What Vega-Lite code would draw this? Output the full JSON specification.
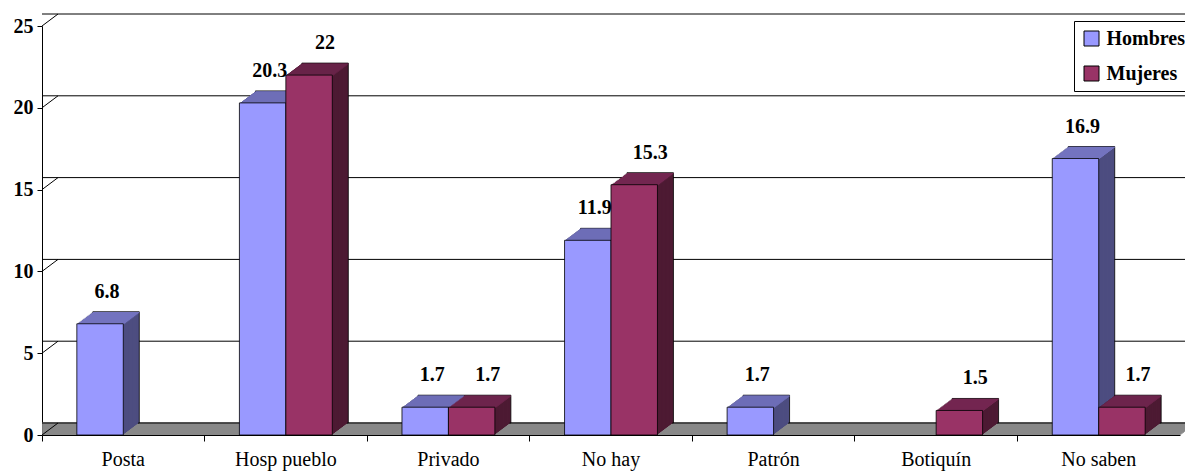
{
  "$schema": "https://vega.github.io/schema/vega-lite/v6.json",
  "width": 1138,
  "height": 409,
  "autosize": "none",
  "padding": {"left": 42, "top": 26, "right": 5, "bottom": 36},
  "background": "white",
  "config": {
    "view": {"stroke": null},
    "scale": {"offsetBandPaddingInner": 0, "offsetBandPaddingOuter": 0.75},
    "legend": {
      "orient": "none", "legendX": 1032, "legendY": -5,
      "strokeColor": "black", "fillColor": "white", "padding": 7.5,
      "symbolType": "square", "symbolSize": 225, "symbolStrokeColor": "black", "symbolStrokeWidth": 1,
      "labelFont": "Liberation Serif", "labelFontWeight": "bold", "labelFontSize": 20, "labelColor": "black",
      "rowPadding": 15, "labelOffset": 5, "title": null
    }
  },
  "data": {"values": [
    {"cat": "Posta", "sex": "Hombres", "value": 6.8},
    {"cat": "Hosp pueblo", "sex": "Hombres", "value": 20.3},
    {"cat": "Hosp pueblo", "sex": "Mujeres", "value": 22},
    {"cat": "Privado", "sex": "Hombres", "value": 1.7},
    {"cat": "Privado", "sex": "Mujeres", "value": 1.7},
    {"cat": "No hay", "sex": "Hombres", "value": 11.9},
    {"cat": "No hay", "sex": "Mujeres", "value": 15.3},
    {"cat": "Patrón", "sex": "Hombres", "value": 1.7},
    {"cat": "Botiquín", "sex": "Mujeres", "value": 1.5},
    {"cat": "No saben", "sex": "Hombres", "value": 16.9},
    {"cat": "No saben", "sex": "Mujeres", "value": 1.7}
  ]},
  "datasets": {"grid": [{"v": 0}, {"v": 5}, {"v": 10}, {"v": 15}, {"v": 20}, {"v": 25}]},
  "layer": [
    {"data": {"values": [{}]}, "mark": {"type": "rule", "color": "#808080", "strokeWidth": 1.5, "xOffset": 0, "x2Offset": 0, "yOffset": 0}, "encoding": {"y": {"datum": 0, "type": "quantitative"}}},
    {"data": {"values": [{}]}, "mark": {"type": "rule", "color": "#808080", "strokeWidth": 1.5, "xOffset": 1.333, "x2Offset": 1.333, "yOffset": -1}, "encoding": {"y": {"datum": 0, "type": "quantitative"}}},
    {"data": {"values": [{}]}, "mark": {"type": "rule", "color": "#808080", "strokeWidth": 1.5, "xOffset": 2.667, "x2Offset": 2.667, "yOffset": -2}, "encoding": {"y": {"datum": 0, "type": "quantitative"}}},
    {"data": {"values": [{}]}, "mark": {"type": "rule", "color": "#808080", "strokeWidth": 1.5, "xOffset": 4, "x2Offset": 4, "yOffset": -3}, "encoding": {"y": {"datum": 0, "type": "quantitative"}}},
    {"data": {"values": [{}]}, "mark": {"type": "rule", "color": "#808080", "strokeWidth": 1.5, "xOffset": 5.333, "x2Offset": 5.333, "yOffset": -4}, "encoding": {"y": {"datum": 0, "type": "quantitative"}}},
    {"data": {"values": [{}]}, "mark": {"type": "rule", "color": "#808080", "strokeWidth": 1.5, "xOffset": 6.667, "x2Offset": 6.667, "yOffset": -5}, "encoding": {"y": {"datum": 0, "type": "quantitative"}}},
    {"data": {"values": [{}]}, "mark": {"type": "rule", "color": "#808080", "strokeWidth": 1.5, "xOffset": 8, "x2Offset": 8, "yOffset": -6}, "encoding": {"y": {"datum": 0, "type": "quantitative"}}},
    {"data": {"values": [{}]}, "mark": {"type": "rule", "color": "#808080", "strokeWidth": 1.5, "xOffset": 9.333, "x2Offset": 9.333, "yOffset": -7}, "encoding": {"y": {"datum": 0, "type": "quantitative"}}},
    {"data": {"values": [{}]}, "mark": {"type": "rule", "color": "#808080", "strokeWidth": 1.5, "xOffset": 10.667, "x2Offset": 10.667, "yOffset": -8}, "encoding": {"y": {"datum": 0, "type": "quantitative"}}},
    {"data": {"values": [{}]}, "mark": {"type": "rule", "color": "#808080", "strokeWidth": 1.5, "xOffset": 12, "x2Offset": 12, "yOffset": -9}, "encoding": {"y": {"datum": 0, "type": "quantitative"}}},
    {"data": {"values": [{}]}, "mark": {"type": "rule", "color": "#808080", "strokeWidth": 1.5, "xOffset": 13.333, "x2Offset": 13.333, "yOffset": -10}, "encoding": {"y": {"datum": 0, "type": "quantitative"}}},
    {"data": {"values": [{}]}, "mark": {"type": "rule", "color": "#808080", "strokeWidth": 1.5, "xOffset": 14.667, "x2Offset": 14.667, "yOffset": -11}, "encoding": {"y": {"datum": 0, "type": "quantitative"}}},
    {"data": {"values": [{}]}, "mark": {"type": "rule", "color": "#808080", "strokeWidth": 1.5, "xOffset": 16, "x2Offset": 16, "yOffset": -12}, "encoding": {"y": {"datum": 0, "type": "quantitative"}}},
    {"data": {"name": "grid"}, "mark": {"type": "rule", "color": "black", "strokeWidth": 1, "xOffset": 16, "x2Offset": 16, "yOffset": -12}, "encoding": {"y": {"field": "v", "type": "quantitative"}}},
    {"data": {"name": "grid"}, "mark": {"type": "rule", "color": "black", "strokeWidth": 1, "x2Offset": 16, "y2Offset": -12},
     "encoding": {"x": {"datum": "Posta", "type": "nominal", "bandPosition": 0}, "x2": {"datum": "Posta", "bandPosition": 0}, "y": {"field": "v", "type": "quantitative"}, "y2": {"field": "v"}}},
    {
      "encoding": {
        "x": {"field": "cat", "type": "nominal", "bandPosition": 0,
          "scale": {"domain": ["Posta", "Hosp pueblo", "Privado", "No hay", "Patrón", "Botiquín", "No saben"], "paddingInner": 0, "paddingOuter": 0},
          "axis": {"title": null, "labelAngle": 0, "labelAlign": "center", "labelFont": "Liberation Serif", "labelFontSize": 20, "labelColor": "black", "tickSize": 6, "tickColor": "black", "domainColor": "black", "bandPosition": 0, "labelPadding": 18, "zindex": 1, "grid": false}},
        "y": {"field": "value", "type": "quantitative",
          "scale": {"domain": [0, 25], "nice": false},
          "axis": {"title": null, "values": [0, 5, 10, 15, 20, 25], "labelFont": "Liberation Serif", "labelFontWeight": "bold", "labelFontSize": 20, "labelColor": "black", "tickSize": 5, "tickColor": "black", "domainColor": "black", "labelPadding": 4, "grid": false}}
      },
      "resolve": {"scale": {"xOffset": "independent"}},
      "layer": [
        {"mark": {"type": "bar", "yOffset": -12, "y2Offset": -12, "stroke": "black", "strokeWidth": 0.8}, "encoding": {"xOffset": {"field": "sex", "type": "nominal", "scale": {"range": [16, 178.571]}}, "color": {"condition": {"test": "datum.sex === 'Hombres'", "value": "#4D4D80"}, "value": "#4D1A33"}}},
        {"mark": {"type": "bar", "yOffset": -11, "y2Offset": -11}, "encoding": {"xOffset": {"field": "sex", "type": "nominal", "scale": {"range": [14.667, 177.238]}}, "color": {"condition": {"test": "datum.sex === 'Hombres'", "value": "#4D4D80"}, "value": "#4D1A33"}}},
        {"mark": {"type": "bar", "yOffset": -10, "y2Offset": -10}, "encoding": {"xOffset": {"field": "sex", "type": "nominal", "scale": {"range": [13.333, 175.905]}}, "color": {"condition": {"test": "datum.sex === 'Hombres'", "value": "#4D4D80"}, "value": "#4D1A33"}}},
        {"mark": {"type": "bar", "yOffset": -9, "y2Offset": -9}, "encoding": {"xOffset": {"field": "sex", "type": "nominal", "scale": {"range": [12, 174.571]}}, "color": {"condition": {"test": "datum.sex === 'Hombres'", "value": "#4D4D80"}, "value": "#4D1A33"}}},
        {"mark": {"type": "bar", "yOffset": -8, "y2Offset": -8}, "encoding": {"xOffset": {"field": "sex", "type": "nominal", "scale": {"range": [10.667, 173.238]}}, "color": {"condition": {"test": "datum.sex === 'Hombres'", "value": "#4D4D80"}, "value": "#4D1A33"}}},
        {"mark": {"type": "bar", "yOffset": -7, "y2Offset": -7}, "encoding": {"xOffset": {"field": "sex", "type": "nominal", "scale": {"range": [9.333, 171.905]}}, "color": {"condition": {"test": "datum.sex === 'Hombres'", "value": "#4D4D80"}, "value": "#4D1A33"}}},
        {"mark": {"type": "bar", "yOffset": -6, "y2Offset": -6}, "encoding": {"xOffset": {"field": "sex", "type": "nominal", "scale": {"range": [8, 170.571]}}, "color": {"condition": {"test": "datum.sex === 'Hombres'", "value": "#4D4D80"}, "value": "#4D1A33"}}},
        {"mark": {"type": "bar", "yOffset": -5, "y2Offset": -5}, "encoding": {"xOffset": {"field": "sex", "type": "nominal", "scale": {"range": [6.667, 169.238]}}, "color": {"condition": {"test": "datum.sex === 'Hombres'", "value": "#4D4D80"}, "value": "#4D1A33"}}},
        {"mark": {"type": "bar", "yOffset": -4, "y2Offset": -4}, "encoding": {"xOffset": {"field": "sex", "type": "nominal", "scale": {"range": [5.333, 167.905]}}, "color": {"condition": {"test": "datum.sex === 'Hombres'", "value": "#4D4D80"}, "value": "#4D1A33"}}},
        {"mark": {"type": "bar", "yOffset": -3, "y2Offset": -3}, "encoding": {"xOffset": {"field": "sex", "type": "nominal", "scale": {"range": [4, 166.571]}}, "color": {"condition": {"test": "datum.sex === 'Hombres'", "value": "#4D4D80"}, "value": "#4D1A33"}}},
        {"mark": {"type": "bar", "yOffset": -2, "y2Offset": -2}, "encoding": {"xOffset": {"field": "sex", "type": "nominal", "scale": {"range": [2.667, 165.238]}}, "color": {"condition": {"test": "datum.sex === 'Hombres'", "value": "#4D4D80"}, "value": "#4D1A33"}}},
        {"mark": {"type": "bar", "yOffset": -1, "y2Offset": -1}, "encoding": {"xOffset": {"field": "sex", "type": "nominal", "scale": {"range": [1.333, 163.905]}}, "color": {"condition": {"test": "datum.sex === 'Hombres'", "value": "#4D4D80"}, "value": "#4D1A33"}}},
        {"mark": {"type": "bar", "yOffset": -11.7, "y2Offset": -10.5}, "encoding": {"y2": {"field": "value"}, "xOffset": {"field": "sex", "type": "nominal", "scale": {"range": [16, 178.571]}}, "color": {"condition": {"test": "datum.sex === 'Hombres'", "value": "#7373BF"}, "value": "#732650"}}},
        {"mark": {"type": "bar", "yOffset": -10.7, "y2Offset": -9.5}, "encoding": {"y2": {"field": "value"}, "xOffset": {"field": "sex", "type": "nominal", "scale": {"range": [14.667, 177.238]}}, "color": {"condition": {"test": "datum.sex === 'Hombres'", "value": "#7373BF"}, "value": "#732650"}}},
        {"mark": {"type": "bar", "yOffset": -9.7, "y2Offset": -8.5}, "encoding": {"y2": {"field": "value"}, "xOffset": {"field": "sex", "type": "nominal", "scale": {"range": [13.333, 175.905]}}, "color": {"condition": {"test": "datum.sex === 'Hombres'", "value": "#7373BF"}, "value": "#732650"}}},
        {"mark": {"type": "bar", "yOffset": -8.7, "y2Offset": -7.5}, "encoding": {"y2": {"field": "value"}, "xOffset": {"field": "sex", "type": "nominal", "scale": {"range": [12, 174.571]}}, "color": {"condition": {"test": "datum.sex === 'Hombres'", "value": "#7373BF"}, "value": "#732650"}}},
        {"mark": {"type": "bar", "yOffset": -7.7, "y2Offset": -6.5}, "encoding": {"y2": {"field": "value"}, "xOffset": {"field": "sex", "type": "nominal", "scale": {"range": [10.667, 173.238]}}, "color": {"condition": {"test": "datum.sex === 'Hombres'", "value": "#7373BF"}, "value": "#732650"}}},
        {"mark": {"type": "bar", "yOffset": -6.7, "y2Offset": -5.5}, "encoding": {"y2": {"field": "value"}, "xOffset": {"field": "sex", "type": "nominal", "scale": {"range": [9.333, 171.905]}}, "color": {"condition": {"test": "datum.sex === 'Hombres'", "value": "#7373BF"}, "value": "#732650"}}},
        {"mark": {"type": "bar", "yOffset": -5.7, "y2Offset": -4.5}, "encoding": {"y2": {"field": "value"}, "xOffset": {"field": "sex", "type": "nominal", "scale": {"range": [8, 170.571]}}, "color": {"condition": {"test": "datum.sex === 'Hombres'", "value": "#7373BF"}, "value": "#732650"}}},
        {"mark": {"type": "bar", "yOffset": -4.7, "y2Offset": -3.5}, "encoding": {"y2": {"field": "value"}, "xOffset": {"field": "sex", "type": "nominal", "scale": {"range": [6.667, 169.238]}}, "color": {"condition": {"test": "datum.sex === 'Hombres'", "value": "#7373BF"}, "value": "#732650"}}},
        {"mark": {"type": "bar", "yOffset": -3.7, "y2Offset": -2.5}, "encoding": {"y2": {"field": "value"}, "xOffset": {"field": "sex", "type": "nominal", "scale": {"range": [5.333, 167.905]}}, "color": {"condition": {"test": "datum.sex === 'Hombres'", "value": "#7373BF"}, "value": "#732650"}}},
        {"mark": {"type": "bar", "yOffset": -2.7, "y2Offset": -1.5}, "encoding": {"y2": {"field": "value"}, "xOffset": {"field": "sex", "type": "nominal", "scale": {"range": [4, 166.571]}}, "color": {"condition": {"test": "datum.sex === 'Hombres'", "value": "#7373BF"}, "value": "#732650"}}},
        {"mark": {"type": "bar", "yOffset": -1.7, "y2Offset": -0.5}, "encoding": {"y2": {"field": "value"}, "xOffset": {"field": "sex", "type": "nominal", "scale": {"range": [2.667, 165.238]}}, "color": {"condition": {"test": "datum.sex === 'Hombres'", "value": "#7373BF"}, "value": "#732650"}}},
        {"mark": {"type": "bar", "yOffset": -0.7, "y2Offset": 0.5}, "encoding": {"y2": {"field": "value"}, "xOffset": {"field": "sex", "type": "nominal", "scale": {"range": [1.333, 163.905]}}, "color": {"condition": {"test": "datum.sex === 'Hombres'", "value": "#7373BF"}, "value": "#732650"}}},
        {"mark": {"type": "bar", "stroke": "black", "strokeWidth": 0.8}, "encoding": {"xOffset": {"field": "sex", "type": "nominal", "scale": {"range": [0, 162.571]}}, "color": {"field": "sex", "type": "nominal", "scale": {"domain": ["Hombres", "Mujeres"], "range": ["#9999FF", "#993366"]}}}},
        {"transform": [{"filter": "datum.sex === 'Hombres'"}], "mark": {"type": "text", "font": "Liberation Serif", "fontWeight": "bold", "fontSize": 20, "color": "black", "baseline": "alphabetic", "dy": -26, "dx": 7}, "encoding": {"text": {"field": "value", "type": "quantitative"}, "xOffset": {"field": "sex", "type": "nominal", "scale": {"type": "band", "domain": ["Hombres", "Mujeres"], "range": [0, 162.571], "paddingInner": 0, "paddingOuter": 0.75}}}},
        {"transform": [{"filter": "datum.sex === 'Mujeres'"}], "mark": {"type": "text", "font": "Liberation Serif", "fontWeight": "bold", "fontSize": 20, "color": "black", "baseline": "alphabetic", "dy": -26, "dx": 16}, "encoding": {"text": {"field": "value", "type": "quantitative"}, "xOffset": {"field": "sex", "type": "nominal", "scale": {"type": "band", "domain": ["Hombres", "Mujeres"], "range": [0, 162.571], "paddingInner": 0, "paddingOuter": 0.75}}}}
      ]
    }
  ]
}
